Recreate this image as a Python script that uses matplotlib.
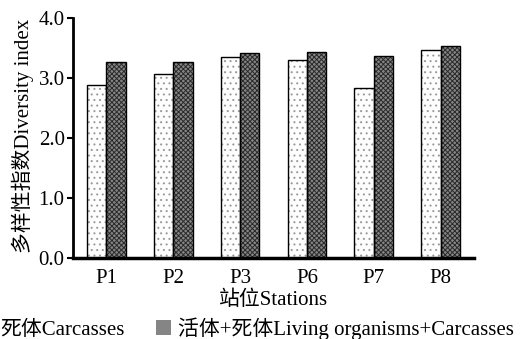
import numpy as np
import matplotlib
matplotlib.use('Agg')
import matplotlib.pyplot as plt
from matplotlib.patches import Patch

plt.rcParams['font.family'] = ['Liberation Serif', 'Noto Sans CJK SC']
plt.rcParams['hatch.linewidth'] = 0.7

stations = ['P1', 'P2', 'P3', 'P6', 'P7', 'P8']
carcasses = [2.88, 3.07, 3.35, 3.30, 2.83, 3.47]
living_carcasses = [3.27, 3.26, 3.42, 3.43, 3.36, 3.53]
yticks = [0.0, 1.0, 2.0, 3.0, 4.0]

fig = plt.figure(figsize=(5.27, 3.39), dpi=100)
ax = fig.add_axes([0.1385, 0.239, 0.761, 0.708])

x = np.arange(len(stations))
w = 0.29
fs = 15

light = dict(color='#fdfdfd', hatch='...', edgecolor='#999999', linewidth=0)
dark = dict(color='#858585', hatch='xxxxxxx', edgecolor='#2a2a2a', linewidth=0)

# fill with pattern first, then outline on top
ax.bar(x - w / 2, carcasses, w, **light)
ax.bar(x + w / 2, living_carcasses, w, **dark)
ax.bar(x - w / 2, carcasses, w, fill=False, edgecolor='black', linewidth=1.0)
ax.bar(x + w / 2, living_carcasses, w, fill=False, edgecolor='black', linewidth=1.0)

ax.set_xlim(-0.5, 5.5)
ax.set_ylim(0, 4.0)
ax.set_yticks(yticks)
ax.set_yticklabels(['%.1f' % v for v in yticks])
ax.set_xticks(x)
ax.set_xticklabels(stations)
ax.tick_params(axis='x', length=0, labelsize=fs, pad=8)
ax.tick_params(axis='y', direction='out', length=4, width=1.5, labelsize=fs, pad=2)

for s in ['top', 'right']:
    ax.spines[s].set_visible(False)
ax.spines['left'].set_linewidth(2)
ax.spines['bottom'].set_linewidth(2.5)

ax.set_xlabel('站位Stations', fontsize=fs, labelpad=2)
ax.set_ylabel('多样性指数Diversity index', fontsize=fs, labelpad=2)
ax.yaxis.set_label_coords(-0.097, 0.51)

handles = [Patch(**light), Patch(**dark)]
fig.legend(handles, ['死体Carcasses', '活体+死体Living organisms+Carcasses'],
           loc='center left', bbox_to_anchor=(-0.04, 0.031), ncol=2,
           frameon=False, fontsize=fs, handlelength=0.7, handleheight=0.7,
           handletextpad=0.35, columnspacing=1.5, borderpad=0, borderaxespad=0)

fig.savefig('out.png', dpi=100)
